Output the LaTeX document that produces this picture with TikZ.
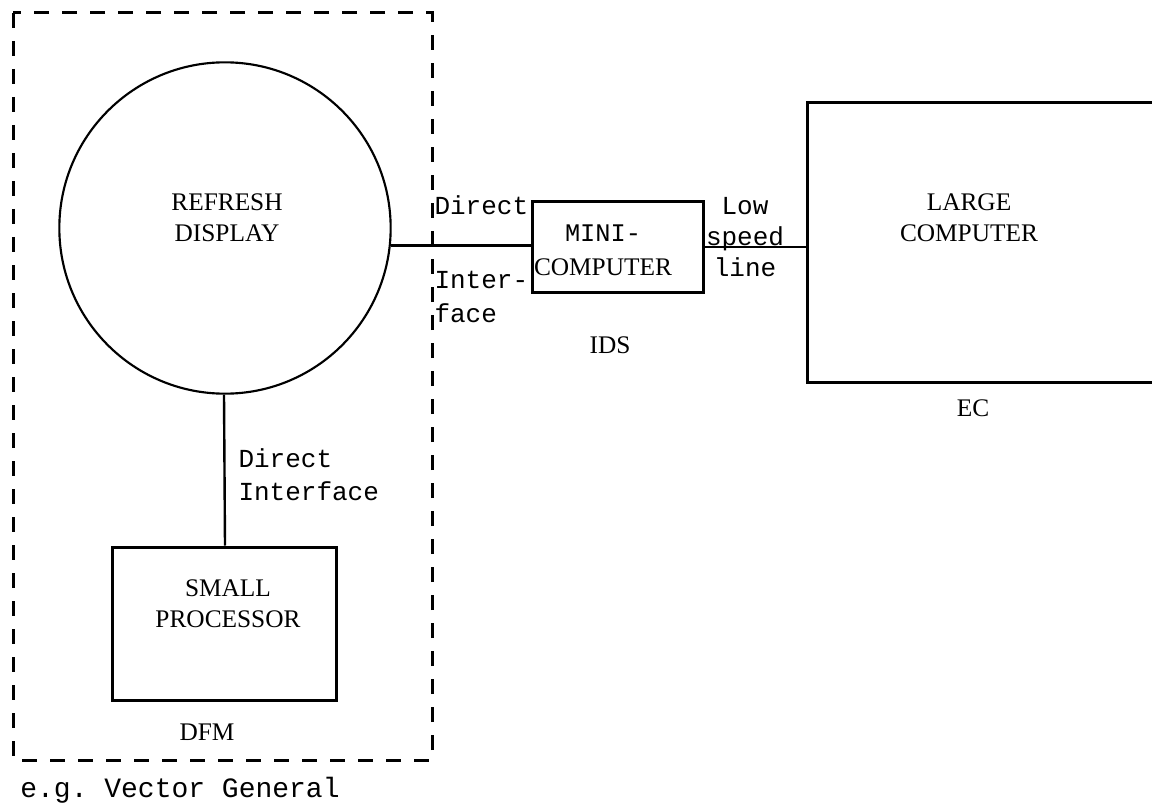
\documentclass[tikz,border=0pt]{standalone}
\usepackage{fontspec}
\setmainfont{Liberation Serif}
\setmonofont{Liberation Mono}

\tikzset{every picture/.style={line width=0.75pt}}
\tikzset{
  unit/.style={draw, line width=2.25pt, rectangle, inner sep=0pt},
  lbl/.style={inner sep=0.75pt, align=center, font=\fontsize{19}{23.5}\selectfont},
  ttl/.style={inner sep=0.75pt, font=\ttfamily\fontsize{19.5}{25}\selectfont},
  link/.style={line width=1.8pt}
}

\begin{document}
\begin{tikzpicture}[x=0.75pt,y=0.75pt,yscale=-1,xscale=1]
\useasboundingbox (0,0) rectangle (1152,809);
\clip (0,0) rectangle (1152,809);

%Dashed frame round the display station
\draw [line width=2.25pt, dash pattern={on 11pt off 10pt}] (13,13) rectangle (432,760) ;

%Shape: Circle
\node [draw, circle, line width=1.6pt, minimum size=248.5pt, inner sep=0pt] (disp) at (225,228) {};
\node [lbl] (disptxt) at (227,218) {REFRESH\\DISPLAY};

%Small processor
\node [unit, minimum width=168pt, minimum height=114.75pt] (proc) at (224,623.5) {};
\node [lbl] (proctxt) at (228,604) {SMALL\\PROCESSOR};
\node [lbl] (dfm) at (207,732) {DFM};

%Mini computer
\node [unit, minimum width=128.25pt, minimum height=67.5pt] (mini) at (617.5,247) {};
\node [lbl] (minitxt) at (603,250) {{\ttfamily MINI-}\\[2pt]COMPUTER};
\node [lbl] (ids) at (610,345) {IDS};

%Large computer (runs past the right edge)
\node [unit, minimum width=285pt, minimum height=209.25pt] (lcbox) at (997,242.5) {};
\node [lbl] (lctxt) at (969,218) {LARGE\\COMPUTER};
\node [lbl] (ec) at (973,408) {EC};

%Connectors
\draw [link] (disp.south -| proc.north) -- (proc.north -| disp.south) ;
\draw [link] (disp.-6) -- (disp.-6 -| mini.west) ;
\draw [link] (mini.east) -- (mini.east -| lcbox.west) ;

% Text Node
\node [ttl, anchor=west, align=left] (di1) at (237,475) {Direct\\Interface};
\node [ttl, anchor=west] (di2) at (433,205) {Direct};
\node [ttl, anchor=west, align=left] (di3) at (433,297) {Inter-\\face};
\node [ttl, align=center] (lsl) at (745,237) {Low\\[-2pt]speed\\[-2pt]line};
\node [ttl, font=\ttfamily\fontsize{21}{25}\selectfont] (vg) at (180,790) {e.g. Vector General};

\end{tikzpicture}
\end{document}
